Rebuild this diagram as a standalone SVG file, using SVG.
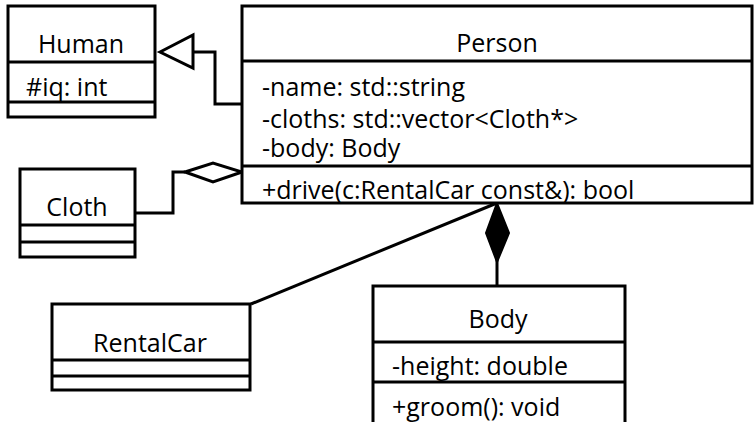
<svg xmlns="http://www.w3.org/2000/svg" width="754" height="422" viewBox="0 0 754 422">
<style>
.box{fill:#fff;stroke:#000;stroke-width:3}
.div{stroke:#000;stroke-width:3}
.t{font-family:"Open Sans","Noto Sans",sans-serif;font-size:25px;fill:#000}
.c{text-anchor:middle}
.ln{fill:none;stroke:#000;stroke-width:3}
</style>
<rect width="754" height="422" fill="#fff"/>
<g id="connectors">
<polyline class="ln" points="193,52 215,52 215,104 242,104"/>
<polygon points="160,52 193,35 193,68" fill="#fff" stroke="#000" stroke-width="3"/>
<polyline class="ln" points="135,213 173,213 173,172 185,172"/>
<polygon points="185,172 213,163 242,172 213,182" fill="#fff" stroke="#000" stroke-width="3"/>
<line class="ln" x1="251" y1="304" x2="497" y2="203"/>
<polygon points="497,203 509,233 497,262 486,233" fill="#000" stroke="#000" stroke-width="2"/>
<line class="ln" x1="497" y1="260" x2="497" y2="286"/>
</g>
<g id="Human">
<rect class="box" x="8" y="6" width="147" height="111"/>
<line class="div" x1="8" y1="62" x2="155" y2="62"/>
<line class="div" x1="8" y1="102" x2="155" y2="102"/>
<text class="t c" x="81" y="53">Human</text>
<text class="t" x="26" y="96">#iq: int</text>
</g>
<g id="Person">
<rect class="box" x="242" y="6" width="510" height="197"/>
<line class="div" x1="242" y1="61" x2="752" y2="61"/>
<line class="div" x1="242" y1="166" x2="752" y2="166"/>
<text class="t c" x="497" y="52">Person</text>
<text class="t" x="262" y="96">-name: std::string</text>
<text class="t" x="262" y="128">-cloths: std::vector&lt;Cloth*&gt;</text>
<text class="t" x="262" y="157">-body: Body</text>
<text class="t" x="262" y="199">+drive(c:RentalCar const&amp;): bool</text>
</g>
<g id="Cloth">
<rect class="box" x="20" y="169" width="115" height="88"/>
<line class="div" x1="20" y1="225" x2="135" y2="225"/>
<line class="div" x1="20" y1="242" x2="135" y2="242"/>
<text class="t c" x="77" y="216">Cloth</text>
</g>
<g id="RentalCar">
<rect class="box" x="52" y="304" width="198" height="86"/>
<line class="div" x1="52" y1="360" x2="250" y2="360"/>
<line class="div" x1="52" y1="376" x2="250" y2="376"/>
<text class="t c" x="150" y="352">RentalCar</text>
</g>
<g id="Body">
<rect class="box" x="373" y="286" width="252" height="150"/>
<line class="div" x1="373" y1="342" x2="625" y2="342"/>
<line class="div" x1="373" y1="382" x2="625" y2="382"/>
<text class="t c" x="498" y="328">Body</text>
<text class="t" x="392" y="375">-height: double</text>
<text class="t" x="392" y="416">+groom(): void</text>
</g>
</svg>
